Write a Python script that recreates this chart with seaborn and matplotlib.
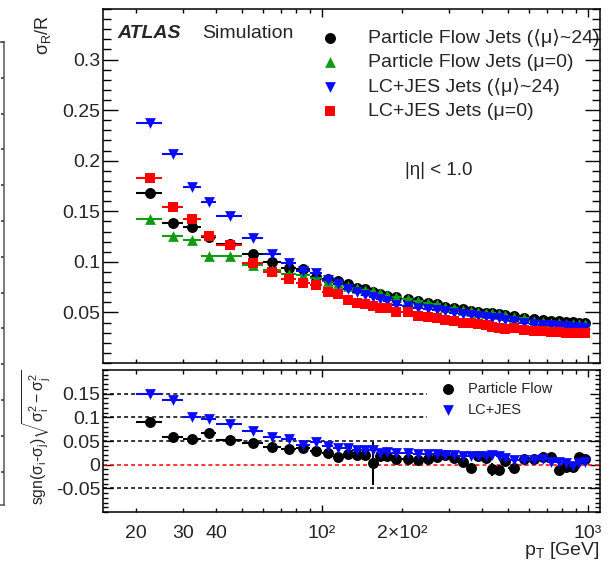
import matplotlib
matplotlib.use('Agg')
import matplotlib.pyplot as plt
import numpy as np
import seaborn as sns
from matplotlib.ticker import FixedLocator, FuncFormatter, MultipleLocator

# pT binning [GeV]
bin_edges = [20, 25, 30, 35, 40, 50, 60, 70, 80, 90, 100,
             110, 120, 130, 140, 150, 160, 170, 180,
             200, 220, 240, 260, 280, 300,
             325, 350, 375, 400, 425, 450, 475, 500,
             550, 600, 650, 700, 750, 800, 850, 900, 950, 1000]

# sigma_R / R, top panel
pf_mu24 = [0.168, 0.1386, 0.1347, 0.125, 0.118, 0.108, 0.100, 0.094, 0.0925, 0.0855,
           0.083, 0.081, 0.0777, 0.0744, 0.0727, 0.0705, 0.068, 0.0665, 0.0655, 0.0628,
           0.061, 0.0596, 0.058, 0.0556, 0.0546, 0.053, 0.0515, 0.0505, 0.0495, 0.049,
           0.048, 0.0475, 0.046, 0.0447, 0.0435, 0.043, 0.042, 0.0414, 0.041, 0.0405,
           0.040, 0.040]
pf_mu0 = [0.142, 0.126, 0.122, 0.1056, 0.1056, 0.097, 0.092, 0.088, 0.087, 0.084,
          0.081, 0.079, 0.0765, 0.074, 0.072, 0.0715, 0.0695, 0.067, 0.065, 0.063,
          0.061, 0.0595, 0.058, 0.0555, 0.054, 0.0525, 0.0515, 0.0505, 0.0495, 0.049,
          0.048, 0.047, 0.045, 0.044, 0.042, 0.041, 0.040, 0.0395, 0.039, 0.039,
          0.0385, 0.0385]
lc_mu24 = [0.2375, 0.2068, 0.174, 0.159, 0.145, 0.1238, 0.108, 0.099, 0.091, 0.0885,
           0.082, 0.078, 0.0734, 0.070, 0.067, 0.065, 0.063, 0.061, 0.0575, 0.056,
           0.0546, 0.053, 0.052, 0.051, 0.0495, 0.048, 0.047, 0.046, 0.045, 0.0445,
           0.044, 0.043, 0.0415, 0.040, 0.039, 0.038, 0.0375, 0.037, 0.0365, 0.036,
           0.0355, 0.035]
lc_mu0 = [0.183, 0.154, 0.1426, 0.126, 0.117, 0.099, 0.0898, 0.0826, 0.0794, 0.0775,
          0.070, 0.0678, 0.0622, 0.0596, 0.058, 0.0563, 0.0546, 0.054, 0.0503, 0.0506,
          0.0464, 0.0458, 0.0441, 0.0424, 0.0414, 0.040, 0.0395, 0.039, 0.0375, 0.036,
          0.0345, 0.0335, 0.035, 0.0325, 0.032, 0.0315, 0.031, 0.0305, 0.030, 0.0298,
          0.0295, 0.0293]

# sgn(si-sj)*sqrt(si^2-sj^2), bottom panel
pf_diff = [0.091, 0.058, 0.055, 0.066, 0.052, 0.045, 0.038, 0.033, 0.035, 0.0296,
           0.0253, 0.0156, 0.022, 0.0205, 0.0205, 0.003, 0.019, 0.019, 0.0113, 0.0113,
           0.0105, 0.0113, 0.016, 0.0205, 0.0135, 0.0063, -0.0077, 0.018, 0.014, -0.0098,
           -0.011, 0.008, -0.0077, 0.0113, 0.0113, 0.0169, 0.0169, -0.011, -0.0055, -0.0055,
           0.0162, 0.012]
pf_diff_err = [0.002] * 15 + [0.045] + [0.002] * 13 + [0.014] + [0.003] * 12
lc_diff = [0.150, 0.1365, 0.101, 0.0957, 0.085, 0.0717, 0.058, 0.054, 0.0416, 0.0486,
           0.0395, 0.0346, 0.0346, 0.031, 0.031, 0.030, 0.024, 0.026, 0.0253, 0.025,
           0.0226, 0.022, 0.022, 0.0205, 0.020, 0.018, 0.019, 0.018, 0.019, 0.020,
           0.018, 0.015, 0.010, 0.010, 0.010, 0.011, 0.0063, 0.006, 0.004, -0.003,
           0.004, 0.005]
lc_diff_err = [0.002] * 42

x_major = [100, 1000]
x_minor = [20, 30, 40, 50, 60, 70, 80, 90, 200, 300, 400, 500, 600, 700, 800, 900]
x_labels = {20: '20', 30: '30', 40: '40', 100: '10²', 200: '2×10²', 1000: '10³'}

edges = np.array(bin_edges, dtype=float)
pt = 0.5 * (edges[1:] + edges[:-1])
pt_half = 0.5 * (edges[1:] - edges[:-1])

sns.set_theme(style='ticks')
plt.rcParams['font.family'] = ['Liberation Sans', 'DejaVu Sans']
plt.rcParams['mathtext.fontset'] = 'custom'
plt.rcParams['mathtext.rm'] = 'Liberation Sans'
plt.rcParams['mathtext.it'] = 'Liberation Sans:italic'
plt.rcParams['mathtext.bf'] = 'Liberation Sans:bold'
plt.rcParams['mathtext.default'] = 'regular'
plt.rcParams['axes.linewidth'] = 1.1
plt.rcParams['axes.edgecolor'] = 'black'

W, H = 613, 564
fig = plt.figure(figsize=(W / 100, H / 100), dpi=100)


def px_axes(x0, y0, x1, y1):
    return fig.add_axes([x0 / W, 1 - y1 / H, (x1 - x0) / W, (y1 - y0) / H])


# piece of the neighbouring figure at the left border
ax_side = px_axes(-120, 42, 4, 505)
ax_side.set_xlim(0, 1)
ax_side.set_ylim(-0.93, 12)
ax_side.yaxis.set_major_locator(MultipleLocator(1))
ax_side.tick_params(axis='y', direction='in', left=False, right=True, length=2.5,
                    labelleft=False, color='#444444')
ax_side.tick_params(axis='x', bottom=False, labelbottom=False)
for sp in ax_side.spines.values():
    sp.set_color('#555555')

ax_top = px_axes(103, 9, 600, 363)
ax_bot = px_axes(103, 370, 600, 512)

top_series = [
    (pf_mu24, 'black', 'o', 'Particle Flow Jets (⟨μ⟩~24)', 62),
    (pf_mu0, '#129a12', '^', 'Particle Flow Jets (μ=0)', 60),
    (lc_mu24, '#0a0aff', 'v', 'LC+JES Jets (⟨μ⟩~24)', 60),
    (lc_mu0, '#ff0000', 's', 'LC+JES Jets (μ=0)', 54),
]
for i, (vals, col, mk, lab, sz) in enumerate(top_series):
    ax_top.errorbar(pt, vals, xerr=pt_half, fmt='none', ecolor=col, elinewidth=1.5,
                    capsize=0, zorder=2 + 2 * i)
    sns.scatterplot(x=pt, y=vals, color=col, marker=mk, s=sz, linewidth=0,
                    label=lab, ax=ax_top, zorder=3 + 2 * i)

bot_series = [
    (pf_diff, pf_diff_err, 'black', 'o', 'Particle Flow', 62),
    (lc_diff, lc_diff_err, '#0a0aff', 'v', 'LC+JES', 60),
]
for i, (vals, errs, col, mk, lab, sz) in enumerate(bot_series):
    ax_bot.errorbar(pt, vals, xerr=pt_half, yerr=errs, fmt='none', ecolor=col,
                    elinewidth=1.5, capsize=0, zorder=3 + 2 * i)
    sns.scatterplot(x=pt, y=vals, color=col, marker=mk, s=sz, linewidth=0,
                    label=lab, ax=ax_bot, zorder=4 + 2 * i)

# reference lines in the lower panel
dash = (0, (2.6, 2.0))
ax_bot.axhline(0.15, xmax=0.652, color='black', lw=1.1, ls=dash, zorder=1)
ax_bot.axhline(0.10, xmax=0.652, color='black', lw=1.1, ls=dash, zorder=1)
ax_bot.axhline(0.05, color='black', lw=1.1, ls=dash, zorder=1)
ax_bot.axhline(-0.05, color='black', lw=1.1, ls=dash, zorder=1)
ax_bot.axhline(0.0, color='red', lw=1.1, ls=dash, zorder=1)

for ax in (ax_top, ax_bot):
    ax.set_xscale('log')
    ax.set_xlim(15, 1110)
    ax.xaxis.set_major_locator(FixedLocator(x_major))
    ax.xaxis.set_minor_locator(FixedLocator(x_minor))
    ax.tick_params(which='both', direction='in', top=True, right=True, width=1.0,
                   color='black', labelsize=14, pad=2)
    ax.set_xlabel('')
    ax.set_ylabel('')

ax_top.tick_params(axis='x', which='major', length=5.8)
ax_top.tick_params(axis='x', which='minor', length=3.0)
ax_top.tick_params(axis='x', which='both', labelbottom=False)
ax_top.tick_params(axis='y', which='major', length=10.5)
ax_top.tick_params(axis='y', which='minor', length=5.5)
ax_top.set_ylim(0, 0.35)
ax_top.yaxis.set_major_locator(FixedLocator([0.05, 0.1, 0.15, 0.2, 0.25, 0.3]))
ax_top.yaxis.set_minor_locator(MultipleLocator(0.01))
ax_top.yaxis.set_major_formatter(FuncFormatter(lambda v, p: f'{v:g}'))

ax_bot.tick_params(axis='x', which='major', length=5.0, pad=9)
ax_bot.tick_params(axis='x', which='minor', length=3.0, pad=9)
ax_bot.tick_params(axis='y', which='major', length=7.0)
ax_bot.tick_params(axis='y', which='minor', length=3.6)
ax_bot.set_ylim(-0.1, 0.2)
ax_bot.yaxis.set_major_locator(FixedLocator([-0.05, 0.0, 0.05, 0.1, 0.15]))
ax_bot.yaxis.set_minor_locator(MultipleLocator(0.01))
ax_bot.yaxis.set_major_formatter(FuncFormatter(lambda v, p: f'{v:g}'))
ax_bot.xaxis.set_major_formatter(FuncFormatter(lambda v, p: x_labels.get(int(round(v)), '')))
ax_bot.xaxis.set_minor_formatter(FuncFormatter(lambda v, p: x_labels.get(int(round(v)), '')))

# legends
ax_top.legend(loc='upper left', bbox_to_anchor=(0.4215, 0.965), frameon=False,
              fontsize=14, handlelength=1.0, handletextpad=1.46, labelspacing=0.33,
              borderpad=0.4, borderaxespad=0)
ax_bot.legend(loc='upper left', bbox_to_anchor=(0.668, 0.955), frameon=False,
              fontsize=10.5, handlelength=1.0, handletextpad=0.87, labelspacing=0.45,
              borderpad=0.4, borderaxespad=0)

# texts
ax_top.text(0.028, 0.932, 'ATLAS', transform=ax_top.transAxes, fontsize=14,
            fontweight='bold', fontstyle='italic', va='center', ha='left')
ax_top.text(0.199, 0.932, 'Simulation', transform=ax_top.transAxes, fontsize=14,
            va='center', ha='left')
ax_top.text(0.6076, 0.545, '|η| < 1.0', transform=ax_top.transAxes, fontsize=13.5,
            va='center', ha='left')

ax_top.set_ylabel(r'$\sigma_{R}$/R', loc='top', fontsize=13)
ax_top.yaxis.set_label_coords(-0.1, 0.983)
ax_bot.set_ylabel(r'sgn($\sigma_{i}$-$\sigma_{j}$)$\sqrt{\sigma_{i}^{2}-\sigma_{j}^{2}}$',
                  loc='top', fontsize=11.3)
ax_bot.yaxis.set_label_coords(-0.1, 1.0)
ax_bot.set_xlabel(r'p$_{T}$ [GeV]', loc='right', fontsize=14)
ax_bot.xaxis.set_label_coords(1.0, -0.2)

fig.savefig('out.png', dpi=100)
plt.close(fig)
